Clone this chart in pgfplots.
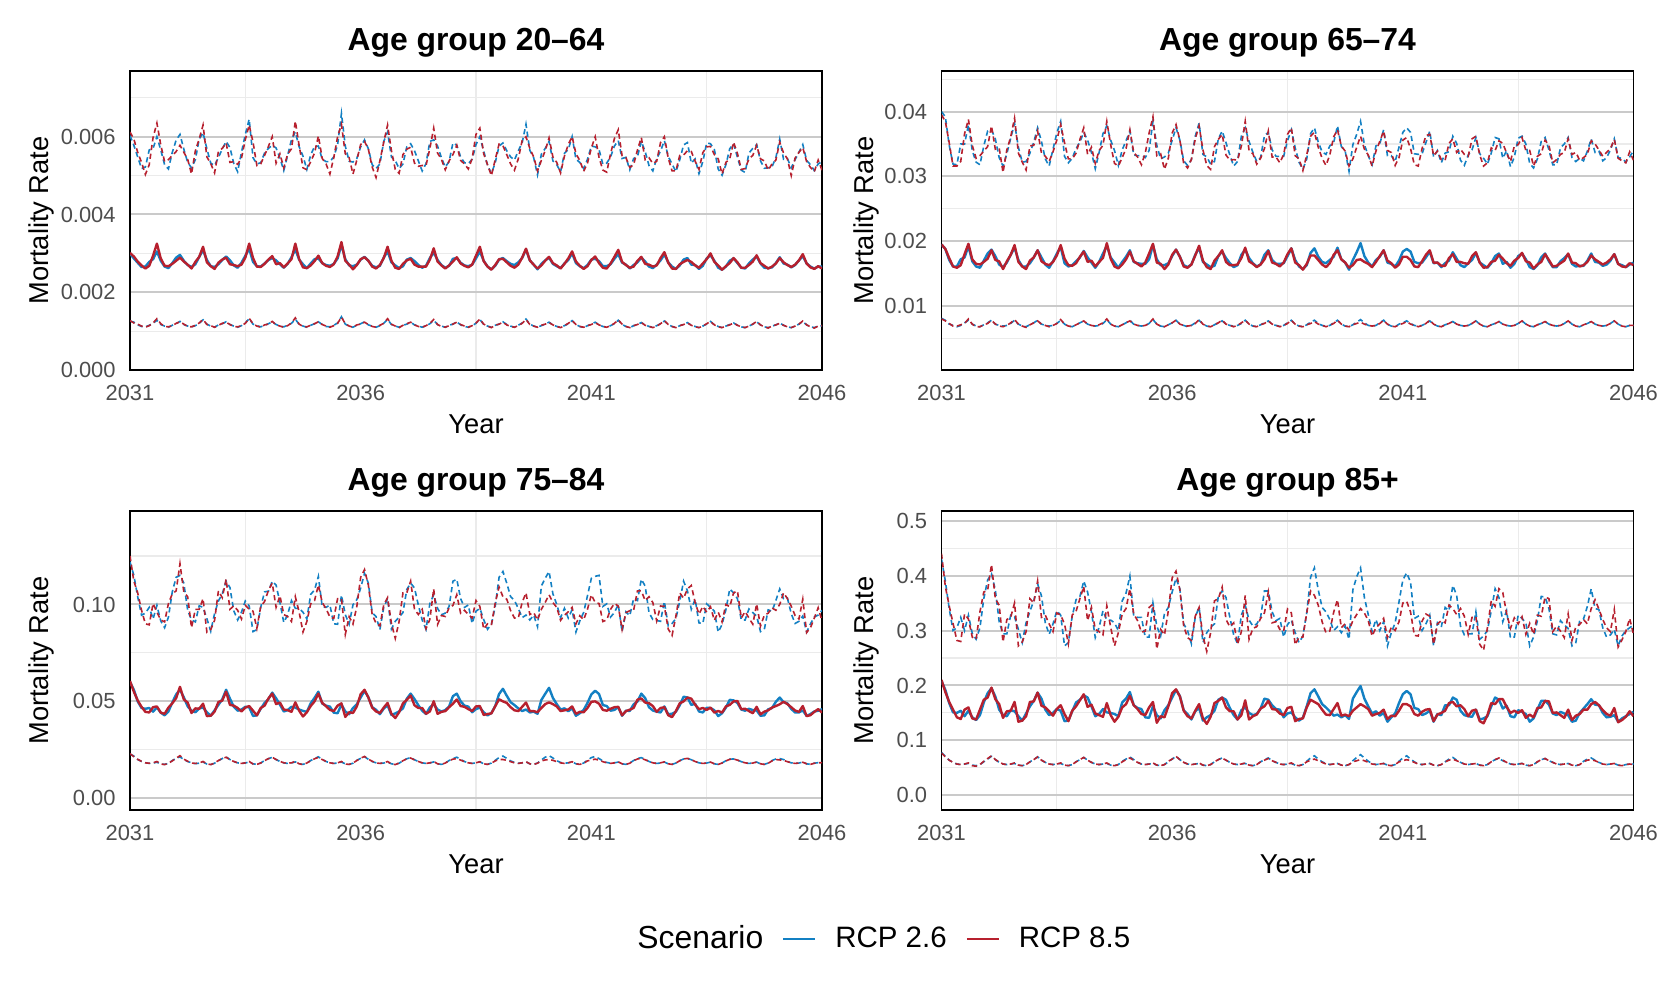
\documentclass[border=0pt]{standalone}
\usepackage{fontspec}
\setmainfont{Liberation Sans}
\usepackage{pgfplots}
\pgfplotsset{compat=1.18}
\usepackage{pgfplotstable}
\definecolor{cb}{HTML}{1380C3}
\definecolor{cr}{HTML}{B7202E}
\definecolor{gmaj}{HTML}{CACACA}
\definecolor{gmin}{HTML}{EBEBEB}
\definecolor{tk}{HTML}{4D4D4D}

% t = months since Jan 2031; 1 = lower bound, 2 = mean, 3 = upper bound; b = RCP 2.6, r = RCP 8.5
\pgfplotstableread{
t b1 b2 b3 r1 r2 r3
0 0.00126 0.00299 0.00603 0.00127 0.00301 0.00612
1 0.00123 0.00287 0.00578 0.00121 0.00292 0.00594
2 0.00116 0.00276 0.00548 0.00118 0.00279 0.00560
3 0.00112 0.00265 0.00518 0.00113 0.00269 0.00534
4 0.00111 0.00266 0.00522 0.00110 0.00261 0.00503
5 0.00115 0.00278 0.00566 0.00114 0.00268 0.00528
6 0.00120 0.00285 0.00570 0.00121 0.00294 0.00598
7 0.00128 0.00305 0.00600 0.00132 0.00325 0.00635
8 0.00117 0.00281 0.00566 0.00119 0.00287 0.00579
9 0.00113 0.00266 0.00528 0.00112 0.00268 0.00536
10 0.00110 0.00262 0.00517 0.00111 0.00267 0.00541
11 0.00115 0.00275 0.00560 0.00114 0.00273 0.00552
12 0.00119 0.00289 0.00591 0.00120 0.00281 0.00562
13 0.00125 0.00296 0.00606 0.00124 0.00289 0.00578
14 0.00117 0.00281 0.00568 0.00118 0.00279 0.00560
15 0.00113 0.00270 0.00534 0.00112 0.00271 0.00542
16 0.00111 0.00265 0.00520 0.00111 0.00261 0.00504
17 0.00114 0.00272 0.00541 0.00115 0.00278 0.00564
18 0.00120 0.00291 0.00594 0.00121 0.00291 0.00594
19 0.00129 0.00308 0.00610 0.00130 0.00317 0.00630
20 0.00118 0.00283 0.00569 0.00117 0.00277 0.00548
21 0.00113 0.00267 0.00532 0.00114 0.00267 0.00531
22 0.00110 0.00265 0.00526 0.00110 0.00260 0.00507
23 0.00116 0.00272 0.00547 0.00115 0.00276 0.00562
24 0.00119 0.00283 0.00568 0.00120 0.00284 0.00570
25 0.00124 0.00292 0.00588 0.00123 0.00289 0.00584
26 0.00117 0.00282 0.00572 0.00117 0.00272 0.00534
27 0.00113 0.00269 0.00531 0.00112 0.00270 0.00536
28 0.00110 0.00263 0.00510 0.00111 0.00267 0.00529
29 0.00114 0.00276 0.00560 0.00114 0.00271 0.00545
30 0.00121 0.00294 0.00606 0.00120 0.00289 0.00593
31 0.00132 0.00312 0.00645 0.00133 0.00325 0.00630
32 0.00118 0.00278 0.00546 0.00119 0.00288 0.00586
33 0.00114 0.00267 0.00530 0.00113 0.00266 0.00526
34 0.00111 0.00266 0.00533 0.00110 0.00265 0.00530
35 0.00115 0.00274 0.00558 0.00116 0.00273 0.00552
36 0.00119 0.00283 0.00570 0.00118 0.00284 0.00575
37 0.00124 0.00288 0.00578 0.00125 0.00293 0.00600
38 0.00117 0.00282 0.00571 0.00116 0.00272 0.00532
39 0.00113 0.00272 0.00545 0.00113 0.00275 0.00556
40 0.00111 0.00263 0.00513 0.00110 0.00264 0.00520
41 0.00115 0.00273 0.00552 0.00114 0.00274 0.00555
42 0.00120 0.00290 0.00592 0.00121 0.00285 0.00569
43 0.00131 0.00310 0.00612 0.00134 0.00325 0.00640
44 0.00117 0.00284 0.00574 0.00118 0.00285 0.00577
45 0.00113 0.00272 0.00550 0.00112 0.00264 0.00520
46 0.00110 0.00262 0.00516 0.00111 0.00262 0.00515
47 0.00115 0.00274 0.00553 0.00115 0.00269 0.00536
48 0.00119 0.00285 0.00575 0.00119 0.00280 0.00558
49 0.00124 0.00287 0.00576 0.00124 0.00294 0.00602
50 0.00117 0.00275 0.00542 0.00117 0.00275 0.00544
51 0.00112 0.00270 0.00536 0.00113 0.00268 0.00530
52 0.00111 0.00268 0.00536 0.00110 0.00265 0.00504
53 0.00115 0.00273 0.00548 0.00114 0.00272 0.00546
54 0.00121 0.00287 0.00579 0.00120 0.00292 0.00600
55 0.00137 0.00322 0.00660 0.00136 0.00329 0.00632
56 0.00118 0.00285 0.00576 0.00119 0.00281 0.00556
57 0.00113 0.00269 0.00537 0.00113 0.00271 0.00546
58 0.00110 0.00267 0.00535 0.00110 0.00259 0.00504
59 0.00115 0.00271 0.00544 0.00116 0.00270 0.00540
60 0.00119 0.00284 0.00574 0.00118 0.00285 0.00580
61 0.00124 0.00291 0.00592 0.00123 0.00290 0.00588
62 0.00116 0.00281 0.00569 0.00117 0.00281 0.00568
63 0.00113 0.00268 0.00528 0.00112 0.00266 0.00522
64 0.00110 0.00264 0.00518 0.00110 0.00261 0.00495
65 0.00114 0.00268 0.00530 0.00115 0.00270 0.00538
66 0.00120 0.00289 0.00588 0.00120 0.00288 0.00586
67 0.00130 0.00305 0.00612 0.00132 0.00317 0.00630
68 0.00117 0.00277 0.00548 0.00118 0.00281 0.00564
69 0.00113 0.00269 0.00539 0.00113 0.00263 0.00516
70 0.00110 0.00262 0.00518 0.00109 0.00260 0.00506
71 0.00115 0.00267 0.00530 0.00115 0.00273 0.00554
72 0.00118 0.00284 0.00574 0.00119 0.00282 0.00568
73 0.00123 0.00288 0.00582 0.00123 0.00286 0.00573
74 0.00116 0.00280 0.00564 0.00116 0.00271 0.00532
75 0.00113 0.00270 0.00538 0.00112 0.00266 0.00524
76 0.00110 0.00263 0.00512 0.00110 0.00266 0.00526
77 0.00114 0.00268 0.00531 0.00114 0.00266 0.00526
78 0.00119 0.00288 0.00588 0.00120 0.00284 0.00570
79 0.00128 0.00302 0.00592 0.00130 0.00313 0.00622
80 0.00117 0.00283 0.00576 0.00117 0.00279 0.00558
81 0.00113 0.00270 0.00546 0.00112 0.00269 0.00542
82 0.00110 0.00263 0.00522 0.00110 0.00261 0.00515
83 0.00115 0.00268 0.00536 0.00114 0.00269 0.00538
84 0.00118 0.00286 0.00584 0.00118 0.00279 0.00554
85 0.00124 0.00288 0.00578 0.00123 0.00290 0.00578
86 0.00116 0.00276 0.00548 0.00117 0.00274 0.00539
87 0.00112 0.00269 0.00533 0.00113 0.00268 0.00530
88 0.00110 0.00267 0.00531 0.00110 0.00264 0.00517
89 0.00114 0.00271 0.00542 0.00114 0.00271 0.00544
90 0.00120 0.00287 0.00580 0.00121 0.00294 0.00606
91 0.00130 0.00305 0.00600 0.00131 0.00317 0.00622
92 0.00117 0.00281 0.00563 0.00118 0.00280 0.00556
93 0.00113 0.00266 0.00527 0.00113 0.00266 0.00528
94 0.00110 0.00259 0.00505 0.00109 0.00258 0.00500
95 0.00115 0.00268 0.00533 0.00115 0.00270 0.00541
96 0.00118 0.00284 0.00576 0.00118 0.00285 0.00581
97 0.00124 0.00288 0.00584 0.00123 0.00286 0.00577
98 0.00117 0.00280 0.00564 0.00116 0.00277 0.00554
99 0.00113 0.00273 0.00548 0.00112 0.00268 0.00530
100 0.00110 0.00270 0.00540 0.00110 0.00263 0.00514
101 0.00115 0.00277 0.00564 0.00114 0.00271 0.00543
102 0.00121 0.00288 0.00584 0.00120 0.00289 0.00590
103 0.00131 0.00310 0.00632 0.00130 0.00312 0.00600
104 0.00118 0.00282 0.00565 0.00117 0.00282 0.00570
105 0.00113 0.00271 0.00546 0.00113 0.00271 0.00548
106 0.00110 0.00259 0.00502 0.00110 0.00261 0.00512
107 0.00114 0.00273 0.00555 0.00115 0.00269 0.00539
108 0.00118 0.00282 0.00570 0.00118 0.00281 0.00564
109 0.00123 0.00289 0.00588 0.00122 0.00291 0.00597
110 0.00116 0.00273 0.00538 0.00116 0.00275 0.00548
111 0.00112 0.00267 0.00528 0.00112 0.00269 0.00534
112 0.00110 0.00262 0.00510 0.00109 0.00261 0.00507
113 0.00114 0.00274 0.00557 0.00114 0.00273 0.00550
114 0.00119 0.00283 0.00567 0.00120 0.00287 0.00580
115 0.00127 0.00300 0.00600 0.00127 0.00305 0.00600
116 0.00117 0.00275 0.00542 0.00117 0.00279 0.00556
117 0.00112 0.00267 0.00534 0.00112 0.00268 0.00539
118 0.00109 0.00262 0.00518 0.00110 0.00260 0.00511
119 0.00114 0.00270 0.00542 0.00114 0.00267 0.00532
120 0.00118 0.00284 0.00576 0.00117 0.00283 0.00571
121 0.00123 0.00286 0.00574 0.00122 0.00292 0.00600
122 0.00116 0.00280 0.00567 0.00116 0.00275 0.00547
123 0.00112 0.00267 0.00529 0.00112 0.00263 0.00514
124 0.00110 0.00267 0.00532 0.00110 0.00261 0.00509
125 0.00114 0.00272 0.00548 0.00114 0.00274 0.00556
126 0.00119 0.00286 0.00576 0.00120 0.00291 0.00595
127 0.00128 0.00298 0.00590 0.00129 0.00309 0.00618
128 0.00117 0.00276 0.00544 0.00118 0.00278 0.00551
129 0.00112 0.00271 0.00547 0.00112 0.00270 0.00546
130 0.00109 0.00261 0.00515 0.00109 0.00263 0.00521
131 0.00114 0.00270 0.00544 0.00114 0.00266 0.00528
132 0.00117 0.00277 0.00549 0.00117 0.00281 0.00566
133 0.00122 0.00289 0.00588 0.00122 0.00291 0.00598
134 0.00116 0.00279 0.00562 0.00115 0.00273 0.00541
135 0.00112 0.00266 0.00526 0.00112 0.00271 0.00546
136 0.00110 0.00262 0.00512 0.00109 0.00266 0.00531
137 0.00114 0.00271 0.00544 0.00113 0.00269 0.00537
138 0.00119 0.00282 0.00563 0.00119 0.00288 0.00585
139 0.00126 0.00297 0.00590 0.00127 0.00303 0.00600
140 0.00117 0.00277 0.00549 0.00117 0.00276 0.00545
141 0.00112 0.00266 0.00530 0.00112 0.00261 0.00512
142 0.00109 0.00260 0.00510 0.00109 0.00260 0.00512
143 0.00114 0.00269 0.00541 0.00114 0.00272 0.00552
144 0.00117 0.00284 0.00579 0.00117 0.00278 0.00553
145 0.00122 0.00288 0.00585 0.00121 0.00283 0.00564
146 0.00115 0.00271 0.00532 0.00115 0.00278 0.00562
147 0.00112 0.00270 0.00543 0.00111 0.00269 0.00537
148 0.00109 0.00260 0.00505 0.00109 0.00263 0.00516
149 0.00113 0.00268 0.00536 0.00113 0.00274 0.00559
150 0.00118 0.00287 0.00584 0.00119 0.00285 0.00574
151 0.00125 0.00295 0.00582 0.00125 0.00300 0.00575
152 0.00116 0.00281 0.00567 0.00116 0.00278 0.00554
153 0.00112 0.00263 0.00517 0.00111 0.00269 0.00543
154 0.00109 0.00258 0.00501 0.00109 0.00258 0.00504
155 0.00113 0.00266 0.00528 0.00113 0.00267 0.00534
156 0.00117 0.00281 0.00569 0.00116 0.00275 0.00543
157 0.00121 0.00287 0.00582 0.00121 0.00288 0.00586
158 0.00115 0.00275 0.00547 0.00115 0.00277 0.00557
159 0.00111 0.00263 0.00514 0.00111 0.00263 0.00516
160 0.00109 0.00261 0.00508 0.00109 0.00263 0.00518
161 0.00113 0.00274 0.00558 0.00113 0.00270 0.00543
162 0.00118 0.00284 0.00570 0.00118 0.00279 0.00552
163 0.00124 0.00292 0.00580 0.00125 0.00295 0.00578
164 0.00116 0.00274 0.00538 0.00116 0.00275 0.00543
165 0.00111 0.00263 0.00519 0.00111 0.00268 0.00538
166 0.00109 0.00262 0.00520 0.00108 0.00261 0.00514
167 0.00113 0.00264 0.00523 0.00113 0.00266 0.00530
168 0.00116 0.00275 0.00546 0.00116 0.00274 0.00540
169 0.00121 0.00290 0.00594 0.00120 0.00288 0.00586
170 0.00115 0.00274 0.00542 0.00115 0.00277 0.00558
171 0.00111 0.00271 0.00544 0.00111 0.00270 0.00543
172 0.00109 0.00264 0.00520 0.00109 0.00265 0.00500
173 0.00113 0.00270 0.00541 0.00113 0.00271 0.00545
174 0.00118 0.00282 0.00560 0.00118 0.00282 0.00560
175 0.00125 0.00293 0.00580 0.00126 0.00298 0.00572
176 0.00116 0.00274 0.00539 0.00116 0.00274 0.00536
177 0.00111 0.00266 0.00528 0.00111 0.00264 0.00521
178 0.00109 0.00261 0.00513 0.00108 0.00260 0.00510
179 0.00113 0.00266 0.00530 0.00113 0.00267 0.00540
180 0.00114 0.00266 0.00536 0.00114 0.00261 0.00514
}\dA

\pgfplotstableread{
t b1 b2 b3 r1 r2 r3
0 0.0081 0.0195 0.0400 0.0080 0.0195 0.0395
1 0.0078 0.0188 0.0392 0.0077 0.0188 0.0385
2 0.0072 0.0171 0.0348 0.0073 0.0174 0.0352
3 0.0070 0.0161 0.0319 0.0069 0.0161 0.0316
4 0.0068 0.0161 0.0318 0.0069 0.0159 0.0316
5 0.0070 0.0172 0.0350 0.0071 0.0163 0.0323
6 0.0074 0.0175 0.0350 0.0073 0.0180 0.0366
7 0.0078 0.0192 0.0380 0.0080 0.0196 0.0388
8 0.0072 0.0169 0.0340 0.0072 0.0172 0.0348
9 0.0069 0.0161 0.0322 0.0068 0.0165 0.0328
10 0.0068 0.0159 0.0318 0.0068 0.0164 0.0332
11 0.0071 0.0170 0.0347 0.0071 0.0168 0.0339
12 0.0074 0.0181 0.0370 0.0073 0.0173 0.0346
13 0.0078 0.0187 0.0372 0.0078 0.0186 0.0378
14 0.0072 0.0177 0.0358 0.0072 0.0171 0.0342
15 0.0070 0.0164 0.0329 0.0069 0.0169 0.0344
16 0.0069 0.0160 0.0316 0.0068 0.0157 0.0306
17 0.0070 0.0167 0.0335 0.0070 0.0169 0.0341
18 0.0073 0.0179 0.0359 0.0074 0.0179 0.0361
19 0.0078 0.0190 0.0382 0.0079 0.0194 0.0390
20 0.0072 0.0171 0.0345 0.0072 0.0168 0.0336
21 0.0069 0.0161 0.0322 0.0069 0.0161 0.0322
22 0.0068 0.0161 0.0323 0.0067 0.0157 0.0310
23 0.0071 0.0166 0.0336 0.0071 0.0170 0.0347
24 0.0074 0.0175 0.0353 0.0074 0.0175 0.0348
25 0.0078 0.0186 0.0375 0.0077 0.0186 0.0370
26 0.0072 0.0175 0.0354 0.0072 0.0169 0.0336
27 0.0070 0.0164 0.0327 0.0070 0.0165 0.0331
28 0.0069 0.0159 0.0316 0.0068 0.0163 0.0323
29 0.0070 0.0169 0.0342 0.0070 0.0168 0.0338
30 0.0073 0.0181 0.0367 0.0073 0.0178 0.0356
31 0.0078 0.0191 0.0385 0.0079 0.0194 0.0380
32 0.0072 0.0166 0.0331 0.0072 0.0173 0.0352
33 0.0069 0.0161 0.0321 0.0069 0.0163 0.0327
34 0.0068 0.0163 0.0328 0.0068 0.0162 0.0327
35 0.0071 0.0169 0.0343 0.0071 0.0166 0.0336
36 0.0074 0.0175 0.0353 0.0074 0.0176 0.0357
37 0.0077 0.0185 0.0368 0.0077 0.0184 0.0375
38 0.0072 0.0175 0.0356 0.0072 0.0168 0.0334
39 0.0070 0.0167 0.0337 0.0070 0.0170 0.0345
40 0.0069 0.0159 0.0312 0.0069 0.0161 0.0320
41 0.0070 0.0168 0.0337 0.0071 0.0168 0.0340
42 0.0073 0.0181 0.0366 0.0074 0.0174 0.0348
43 0.0079 0.0193 0.0378 0.0080 0.0197 0.0385
44 0.0072 0.0175 0.0356 0.0072 0.0173 0.0349
45 0.0069 0.0167 0.0340 0.0069 0.0161 0.0320
46 0.0068 0.0159 0.0317 0.0068 0.0158 0.0316
47 0.0071 0.0168 0.0341 0.0071 0.0164 0.0329
48 0.0074 0.0176 0.0355 0.0074 0.0172 0.0343
49 0.0078 0.0186 0.0370 0.0077 0.0184 0.0372
50 0.0072 0.0168 0.0333 0.0072 0.0169 0.0337
51 0.0070 0.0166 0.0332 0.0070 0.0165 0.0330
52 0.0069 0.0165 0.0332 0.0069 0.0161 0.0318
53 0.0070 0.0165 0.0329 0.0070 0.0167 0.0336
54 0.0073 0.0172 0.0340 0.0073 0.0181 0.0367
55 0.0079 0.0194 0.0385 0.0080 0.0196 0.0392
56 0.0072 0.0172 0.0348 0.0072 0.0167 0.0332
57 0.0069 0.0163 0.0327 0.0069 0.0165 0.0335
58 0.0068 0.0163 0.0330 0.0068 0.0157 0.0311
59 0.0071 0.0166 0.0336 0.0071 0.0164 0.0328
60 0.0074 0.0177 0.0356 0.0074 0.0179 0.0367
61 0.0078 0.0187 0.0375 0.0078 0.0187 0.0380
62 0.0072 0.0176 0.0356 0.0072 0.0176 0.0356
63 0.0070 0.0163 0.0324 0.0070 0.0161 0.0320
64 0.0068 0.0160 0.0317 0.0069 0.0159 0.0313
65 0.0070 0.0164 0.0326 0.0070 0.0164 0.0326
66 0.0074 0.0179 0.0362 0.0073 0.0178 0.0358
67 0.0078 0.0190 0.0382 0.0079 0.0193 0.0378
68 0.0072 0.0168 0.0334 0.0072 0.0170 0.0341
69 0.0069 0.0164 0.0330 0.0069 0.0160 0.0317
70 0.0068 0.0160 0.0319 0.0068 0.0157 0.0311
71 0.0071 0.0162 0.0323 0.0071 0.0170 0.0346
72 0.0074 0.0177 0.0358 0.0074 0.0177 0.0357
73 0.0077 0.0184 0.0370 0.0078 0.0186 0.0365
74 0.0072 0.0174 0.0352 0.0072 0.0168 0.0333
75 0.0070 0.0166 0.0333 0.0070 0.0163 0.0325
76 0.0069 0.0160 0.0316 0.0068 0.0163 0.0326
77 0.0070 0.0163 0.0323 0.0070 0.0164 0.0325
78 0.0073 0.0179 0.0362 0.0074 0.0174 0.0347
79 0.0078 0.0187 0.0375 0.0078 0.0190 0.0385
80 0.0072 0.0174 0.0354 0.0072 0.0169 0.0340
81 0.0069 0.0166 0.0337 0.0069 0.0165 0.0335
82 0.0068 0.0161 0.0323 0.0068 0.0160 0.0319
83 0.0071 0.0164 0.0329 0.0071 0.0164 0.0328
84 0.0074 0.0179 0.0363 0.0073 0.0172 0.0343
85 0.0077 0.0186 0.0368 0.0077 0.0185 0.0370
86 0.0072 0.0171 0.0341 0.0072 0.0167 0.0330
87 0.0070 0.0165 0.0331 0.0070 0.0165 0.0330
88 0.0069 0.0165 0.0331 0.0068 0.0161 0.0321
89 0.0070 0.0166 0.0331 0.0070 0.0167 0.0334
90 0.0074 0.0177 0.0355 0.0073 0.0180 0.0365
91 0.0078 0.0189 0.0372 0.0078 0.0189 0.0375
92 0.0072 0.0171 0.0344 0.0072 0.0167 0.0332
93 0.0069 0.0161 0.0322 0.0069 0.0163 0.0327
94 0.0068 0.0157 0.0311 0.0068 0.0156 0.0309
95 0.0071 0.0163 0.0327 0.0071 0.0165 0.0333
96 0.0075 0.0182 0.0366 0.0073 0.0178 0.0362
97 0.0078 0.0189 0.0375 0.0076 0.0178 0.0368
98 0.0073 0.0176 0.0353 0.0072 0.0171 0.0345
99 0.0070 0.0168 0.0338 0.0070 0.0164 0.0328
100 0.0069 0.0166 0.0334 0.0068 0.0160 0.0317
101 0.0070 0.0171 0.0347 0.0070 0.0166 0.0333
102 0.0074 0.0176 0.0352 0.0073 0.0179 0.0361
103 0.0078 0.0190 0.0378 0.0078 0.0186 0.0372
104 0.0072 0.0172 0.0346 0.0072 0.0172 0.0347
105 0.0069 0.0167 0.0339 0.0069 0.0167 0.0339
106 0.0068 0.0156 0.0308 0.0068 0.0159 0.0316
107 0.0071 0.0171 0.0349 0.0071 0.0163 0.0327
108 0.0075 0.0183 0.0365 0.0073 0.0171 0.0345
109 0.0079 0.0197 0.0385 0.0075 0.0172 0.0362
110 0.0074 0.0177 0.0349 0.0072 0.0168 0.0342
111 0.0070 0.0167 0.0332 0.0070 0.0165 0.0333
112 0.0069 0.0161 0.0318 0.0069 0.0160 0.0316
113 0.0070 0.0171 0.0347 0.0070 0.0168 0.0339
114 0.0074 0.0176 0.0350 0.0073 0.0177 0.0354
115 0.0078 0.0186 0.0372 0.0078 0.0186 0.0370
116 0.0072 0.0167 0.0332 0.0072 0.0170 0.0340
117 0.0069 0.0165 0.0332 0.0069 0.0166 0.0337
118 0.0068 0.0161 0.0323 0.0068 0.0159 0.0317
119 0.0072 0.0170 0.0345 0.0071 0.0164 0.0329
120 0.0074 0.0184 0.0368 0.0073 0.0176 0.0356
121 0.0077 0.0188 0.0375 0.0076 0.0176 0.0360
122 0.0073 0.0184 0.0368 0.0072 0.0171 0.0343
123 0.0070 0.0168 0.0335 0.0070 0.0161 0.0318
124 0.0069 0.0166 0.0334 0.0068 0.0160 0.0316
125 0.0070 0.0167 0.0335 0.0070 0.0169 0.0343
126 0.0073 0.0175 0.0352 0.0073 0.0179 0.0363
127 0.0077 0.0184 0.0370 0.0078 0.0186 0.0365
128 0.0072 0.0166 0.0330 0.0072 0.0167 0.0332
129 0.0069 0.0167 0.0340 0.0069 0.0167 0.0339
130 0.0068 0.0160 0.0321 0.0068 0.0162 0.0326
131 0.0071 0.0166 0.0336 0.0071 0.0162 0.0325
132 0.0073 0.0170 0.0338 0.0073 0.0174 0.0351
133 0.0076 0.0183 0.0362 0.0076 0.0180 0.0358
134 0.0072 0.0173 0.0351 0.0072 0.0168 0.0337
135 0.0070 0.0163 0.0325 0.0070 0.0168 0.0342
136 0.0069 0.0160 0.0317 0.0069 0.0166 0.0334
137 0.0070 0.0166 0.0333 0.0070 0.0165 0.0331
138 0.0073 0.0171 0.0341 0.0073 0.0177 0.0358
139 0.0077 0.0182 0.0360 0.0077 0.0183 0.0362
140 0.0072 0.0167 0.0335 0.0072 0.0167 0.0333
141 0.0069 0.0163 0.0328 0.0069 0.0159 0.0316
142 0.0068 0.0159 0.0319 0.0068 0.0160 0.0321
143 0.0071 0.0166 0.0336 0.0071 0.0168 0.0344
144 0.0073 0.0177 0.0360 0.0073 0.0170 0.0340
145 0.0076 0.0181 0.0358 0.0076 0.0179 0.0355
146 0.0072 0.0165 0.0328 0.0072 0.0173 0.0351
147 0.0070 0.0168 0.0340 0.0070 0.0166 0.0336
148 0.0069 0.0159 0.0315 0.0069 0.0162 0.0323
149 0.0070 0.0165 0.0330 0.0070 0.0170 0.0347
150 0.0073 0.0177 0.0359 0.0073 0.0174 0.0349
151 0.0077 0.0181 0.0362 0.0077 0.0182 0.0360
152 0.0072 0.0172 0.0350 0.0072 0.0169 0.0340
153 0.0069 0.0160 0.0320 0.0069 0.0167 0.0340
154 0.0068 0.0157 0.0313 0.0068 0.0158 0.0316
155 0.0071 0.0163 0.0327 0.0071 0.0164 0.0331
156 0.0073 0.0175 0.0354 0.0073 0.0168 0.0335
157 0.0076 0.0181 0.0360 0.0076 0.0180 0.0356
158 0.0072 0.0169 0.0341 0.0072 0.0171 0.0348
159 0.0070 0.0160 0.0318 0.0070 0.0161 0.0321
160 0.0069 0.0160 0.0318 0.0069 0.0162 0.0326
161 0.0070 0.0169 0.0344 0.0070 0.0166 0.0334
162 0.0073 0.0174 0.0350 0.0073 0.0170 0.0337
163 0.0077 0.0180 0.0360 0.0077 0.0181 0.0358
164 0.0072 0.0165 0.0329 0.0072 0.0167 0.0334
165 0.0069 0.0161 0.0323 0.0069 0.0166 0.0337
166 0.0068 0.0162 0.0328 0.0068 0.0161 0.0325
167 0.0071 0.0162 0.0324 0.0071 0.0163 0.0329
168 0.0073 0.0170 0.0339 0.0073 0.0168 0.0334
169 0.0076 0.0181 0.0358 0.0076 0.0178 0.0355
170 0.0072 0.0168 0.0337 0.0072 0.0172 0.0350
171 0.0070 0.0167 0.0339 0.0070 0.0168 0.0341
172 0.0069 0.0162 0.0324 0.0069 0.0164 0.0331
173 0.0070 0.0164 0.0329 0.0070 0.0167 0.0337
174 0.0073 0.0170 0.0341 0.0073 0.0172 0.0343
175 0.0077 0.0180 0.0358 0.0077 0.0180 0.0357
176 0.0072 0.0165 0.0329 0.0072 0.0165 0.0328
177 0.0069 0.0163 0.0328 0.0069 0.0161 0.0324
178 0.0068 0.0160 0.0322 0.0068 0.0160 0.0321
179 0.0070 0.0164 0.0330 0.0070 0.0166 0.0338
180 0.0070 0.0167 0.0340 0.0070 0.0163 0.0325
}\dB

\pgfplotstableread{
t b1 b2 b3 r1 r2 r3
0 0.0228 0.0600 0.1220 0.0230 0.0605 0.1250
1 0.0218 0.0560 0.1150 0.0215 0.0550 0.1120
2 0.0200 0.0500 0.1040 0.0201 0.0505 0.1060
3 0.0190 0.0466 0.0945 0.0191 0.0472 0.0970
4 0.0184 0.0462 0.0955 0.0183 0.0446 0.0900
5 0.0180 0.0466 0.0985 0.0181 0.0443 0.0895
6 0.0182 0.0447 0.0925 0.0183 0.0470 0.1005
7 0.0186 0.0469 0.0995 0.0190 0.0474 0.0960
8 0.0178 0.0442 0.0915 0.0177 0.0442 0.0920
9 0.0175 0.0428 0.0880 0.0174 0.0436 0.0910
10 0.0180 0.0448 0.0935 0.0181 0.0468 0.1005
11 0.0195 0.0494 0.1065 0.0193 0.0490 0.1055
12 0.0206 0.0536 0.1140 0.0207 0.0517 0.1070
13 0.0214 0.0560 0.1150 0.0220 0.0575 0.1210
14 0.0200 0.0521 0.1110 0.0202 0.0510 0.1065
15 0.0190 0.0474 0.0970 0.0191 0.0494 0.1040
16 0.0183 0.0452 0.0920 0.0182 0.0440 0.0880
17 0.0179 0.0444 0.0910 0.0180 0.0464 0.0975
18 0.0181 0.0464 0.0993 0.0182 0.0462 0.0975
19 0.0187 0.0468 0.0985 0.0190 0.0488 0.1030
20 0.0177 0.0444 0.0927 0.0178 0.0424 0.0857
21 0.0174 0.0426 0.0862 0.0174 0.0426 0.0870
22 0.0181 0.0454 0.0953 0.0182 0.0447 0.0918
23 0.0194 0.0482 0.1018 0.0195 0.0497 0.1070
24 0.0205 0.0511 0.1055 0.0205 0.0504 0.1035
25 0.0214 0.0560 0.1120 0.0212 0.0550 0.1130
26 0.0200 0.0514 0.1087 0.0199 0.0482 0.0975
27 0.0190 0.0472 0.0967 0.0190 0.0478 0.0993
28 0.0183 0.0452 0.0920 0.0183 0.0466 0.0970
29 0.0180 0.0458 0.0960 0.0180 0.0448 0.0925
30 0.0182 0.0472 0.1018 0.0183 0.0468 0.0995
31 0.0188 0.0470 0.0992 0.0190 0.0476 0.0975
32 0.0178 0.0425 0.0860 0.0177 0.0452 0.0965
33 0.0175 0.0428 0.0870 0.0175 0.0428 0.0877
34 0.0182 0.0462 0.0985 0.0182 0.0466 0.0990
35 0.0195 0.0492 0.1065 0.0194 0.0478 0.1015
36 0.0204 0.0512 0.1068 0.0205 0.0515 0.1072
37 0.0212 0.0545 0.1120 0.0212 0.0540 0.1110
38 0.0200 0.0516 0.1100 0.0200 0.0486 0.0985
39 0.0190 0.0483 0.1010 0.0191 0.0494 0.1045
40 0.0183 0.0448 0.0907 0.0183 0.0458 0.0948
41 0.0180 0.0455 0.0947 0.0181 0.0455 0.0938
42 0.0182 0.0472 0.1020 0.0183 0.0446 0.0912
43 0.0188 0.0468 0.0980 0.0191 0.0495 0.1040
44 0.0178 0.0458 0.0980 0.0178 0.0452 0.0960
45 0.0175 0.0451 0.0960 0.0174 0.0422 0.0858
46 0.0182 0.0446 0.0925 0.0182 0.0444 0.0912
47 0.0195 0.0490 0.1052 0.0194 0.0476 0.1003
48 0.0205 0.0518 0.1075 0.0204 0.0500 0.1020
49 0.0214 0.0550 0.1145 0.0211 0.0540 0.1100
50 0.0201 0.0489 0.0988 0.0200 0.0492 0.1010
51 0.0190 0.0478 0.0985 0.0190 0.0475 0.0978
52 0.0183 0.0473 0.0997 0.0183 0.0456 0.0935
53 0.0180 0.0442 0.0900 0.0180 0.0450 0.0928
54 0.0182 0.0439 0.0898 0.0183 0.0478 0.1030
55 0.0187 0.0484 0.1048 0.0190 0.0490 0.1030
56 0.0178 0.0448 0.0948 0.0177 0.0420 0.0845
57 0.0175 0.0434 0.0898 0.0175 0.0444 0.0937
58 0.0181 0.0466 0.0998 0.0182 0.0440 0.0899
59 0.0196 0.0485 0.1025 0.0195 0.0474 0.0990
60 0.0206 0.0520 0.1085 0.0207 0.0537 0.1140
61 0.0215 0.0555 0.1160 0.0216 0.0560 0.1180
62 0.0201 0.0521 0.1110 0.0202 0.0520 0.1100
63 0.0190 0.0470 0.0958 0.0191 0.0468 0.0947
64 0.0183 0.0457 0.0937 0.0183 0.0448 0.0903
65 0.0180 0.0434 0.0870 0.0180 0.0440 0.0890
66 0.0182 0.0463 0.0985 0.0183 0.0468 0.0998
67 0.0187 0.0480 0.1030 0.0190 0.0492 0.1035
68 0.0178 0.0430 0.0873 0.0177 0.0436 0.0902
69 0.0175 0.0438 0.0913 0.0174 0.0414 0.0825
70 0.0181 0.0448 0.0935 0.0182 0.0444 0.0912
71 0.0194 0.0464 0.0958 0.0194 0.0490 0.1060
72 0.0204 0.0514 0.1077 0.0204 0.0508 0.1060
73 0.0210 0.0540 0.1110 0.0208 0.0530 0.1120
74 0.0199 0.0512 0.1085 0.0198 0.0480 0.0975
75 0.0190 0.0480 0.0997 0.0190 0.0466 0.0948
76 0.0183 0.0452 0.0920 0.0183 0.0466 0.0975
77 0.0180 0.0435 0.0872 0.0180 0.0436 0.0875
78 0.0182 0.0469 0.1005 0.0183 0.0448 0.0923
79 0.0188 0.0486 0.1050 0.0190 0.0501 0.1080
80 0.0178 0.0458 0.0980 0.0178 0.0436 0.0897
81 0.0175 0.0448 0.0947 0.0175 0.0446 0.0943
82 0.0182 0.0455 0.0955 0.0182 0.0450 0.0938
83 0.0195 0.0474 0.0990 0.0194 0.0470 0.0982
84 0.0205 0.0527 0.1120 0.0202 0.0488 0.0995
85 0.0212 0.0540 0.1130 0.0205 0.0510 0.1050
86 0.0200 0.0501 0.1030 0.0197 0.0476 0.0955
87 0.0190 0.0478 0.0985 0.0189 0.0472 0.0970
88 0.0183 0.0473 0.0997 0.0183 0.0460 0.0948
89 0.0180 0.0444 0.0902 0.0180 0.0450 0.0930
90 0.0183 0.0460 0.0965 0.0183 0.0474 0.1020
91 0.0188 0.0468 0.0980 0.0189 0.0476 0.0990
92 0.0178 0.0444 0.0922 0.0178 0.0430 0.0873
93 0.0175 0.0428 0.0872 0.0175 0.0435 0.0900
94 0.0182 0.0440 0.0897 0.0181 0.0438 0.0893
95 0.0196 0.0476 0.0990 0.0193 0.0475 0.1008
96 0.0210 0.0538 0.1140 0.0200 0.0511 0.1090
97 0.0218 0.0565 0.1170 0.0200 0.0500 0.1040
98 0.0206 0.0529 0.1110 0.0196 0.0492 0.1027
99 0.0193 0.0496 0.1040 0.0189 0.0470 0.0968
100 0.0185 0.0481 0.1020 0.0183 0.0454 0.0930
101 0.0181 0.0464 0.0980 0.0180 0.0450 0.0930
102 0.0183 0.0450 0.0932 0.0183 0.0472 0.1010
103 0.0188 0.0458 0.0945 0.0189 0.0494 0.1060
104 0.0178 0.0443 0.0920 0.0178 0.0450 0.0948
105 0.0175 0.0447 0.0945 0.0175 0.0450 0.0958
106 0.0182 0.0436 0.0885 0.0181 0.0444 0.0920
107 0.0198 0.0507 0.1095 0.0193 0.0466 0.0975
108 0.0212 0.0539 0.1135 0.0198 0.0486 0.1010
109 0.0220 0.0570 0.1170 0.0200 0.0495 0.1050
110 0.0208 0.0518 0.1055 0.0196 0.0486 0.1010
111 0.0194 0.0486 0.1000 0.0189 0.0474 0.0985
112 0.0185 0.0458 0.0932 0.0183 0.0450 0.0918
113 0.0181 0.0464 0.0980 0.0180 0.0454 0.0945
114 0.0183 0.0449 0.0930 0.0183 0.0458 0.0962
115 0.0188 0.0464 0.0973 0.0189 0.0474 0.0985
116 0.0178 0.0426 0.0858 0.0178 0.0436 0.0900
117 0.0175 0.0439 0.0915 0.0175 0.0446 0.0942
118 0.0182 0.0456 0.0959 0.0181 0.0444 0.0921
119 0.0197 0.0492 0.1045 0.0193 0.0466 0.0975
120 0.0210 0.0536 0.1135 0.0198 0.0498 0.1050
121 0.0216 0.0555 0.1145 0.0202 0.0500 0.1010
122 0.0205 0.0538 0.1150 0.0197 0.0488 0.1005
123 0.0193 0.0481 0.0990 0.0189 0.0456 0.0912
124 0.0185 0.0476 0.1003 0.0183 0.0452 0.0920
125 0.0181 0.0452 0.0935 0.0180 0.0462 0.0975
126 0.0183 0.0456 0.0958 0.0183 0.0470 0.1005
127 0.0187 0.0470 0.1000 0.0188 0.0472 0.0992
128 0.0178 0.0426 0.0860 0.0178 0.0428 0.0871
129 0.0175 0.0452 0.0962 0.0175 0.0450 0.0958
130 0.0182 0.0451 0.0942 0.0181 0.0457 0.0968
131 0.0195 0.0485 0.1030 0.0194 0.0466 0.0970
132 0.0205 0.0499 0.1020 0.0203 0.0509 0.1070
133 0.0210 0.0540 0.1130 0.0205 0.0515 0.1070
134 0.0201 0.0517 0.1095 0.0199 0.0494 0.1020
135 0.0190 0.0470 0.0958 0.0190 0.0491 0.1040
136 0.0183 0.0453 0.0922 0.0183 0.0476 0.1010
137 0.0180 0.0447 0.0917 0.0180 0.0446 0.0915
138 0.0182 0.0443 0.0913 0.0183 0.0466 0.0992
139 0.0187 0.0474 0.1015 0.0188 0.0470 0.0990
140 0.0178 0.0434 0.0890 0.0178 0.0429 0.0873
141 0.0175 0.0436 0.0902 0.0175 0.0419 0.0840
142 0.0182 0.0447 0.0927 0.0182 0.0450 0.0940
143 0.0194 0.0480 0.1018 0.0194 0.0490 0.1060
144 0.0203 0.0524 0.1120 0.0203 0.0500 0.1032
145 0.0206 0.0520 0.1070 0.0206 0.0520 0.1080
146 0.0199 0.0482 0.0975 0.0199 0.0514 0.1098
147 0.0190 0.0488 0.1027 0.0190 0.0483 0.1010
148 0.0183 0.0448 0.0905 0.0183 0.0460 0.0950
149 0.0180 0.0443 0.0902 0.0180 0.0466 0.0990
150 0.0182 0.0467 0.1003 0.0182 0.0456 0.0960
151 0.0187 0.0466 0.0985 0.0187 0.0468 0.0988
152 0.0178 0.0454 0.0965 0.0178 0.0442 0.0918
153 0.0175 0.0424 0.0857 0.0175 0.0451 0.0960
154 0.0182 0.0439 0.0897 0.0182 0.0442 0.0910
155 0.0194 0.0468 0.0973 0.0193 0.0474 0.1000
156 0.0202 0.0508 0.1080 0.0201 0.0482 0.0988
157 0.0203 0.0505 0.1060 0.0203 0.0500 0.1060
158 0.0198 0.0492 0.1030 0.0197 0.0502 0.1070
159 0.0189 0.0458 0.0920 0.0189 0.0460 0.0930
160 0.0183 0.0452 0.0920 0.0183 0.0462 0.0963
161 0.0180 0.0462 0.0977 0.0180 0.0450 0.0930
162 0.0182 0.0455 0.0958 0.0182 0.0439 0.0898
163 0.0187 0.0453 0.0940 0.0187 0.0472 0.1003
164 0.0178 0.0426 0.0860 0.0178 0.0433 0.0888
165 0.0175 0.0428 0.0872 0.0175 0.0447 0.0945
166 0.0182 0.0459 0.0972 0.0181 0.0454 0.0955
167 0.0195 0.0466 0.0965 0.0193 0.0468 0.0982
168 0.0203 0.0498 0.1020 0.0200 0.0476 0.0970
169 0.0205 0.0520 0.1080 0.0198 0.0485 0.1000
170 0.0200 0.0496 0.1030 0.0196 0.0498 0.1060
171 0.0190 0.0490 0.1033 0.0189 0.0486 0.1030
172 0.0183 0.0461 0.0952 0.0183 0.0470 0.0991
173 0.0180 0.0443 0.0902 0.0180 0.0453 0.0943
174 0.0182 0.0443 0.0913 0.0182 0.0446 0.0925
175 0.0187 0.0453 0.0940 0.0186 0.0476 0.1027
176 0.0178 0.0425 0.0858 0.0178 0.0424 0.0855
177 0.0175 0.0435 0.0900 0.0175 0.0429 0.0880
178 0.0181 0.0448 0.0935 0.0181 0.0446 0.0930
179 0.0184 0.0452 0.0945 0.0183 0.0460 0.0983
180 0.0185 0.0460 0.0970 0.0184 0.0442 0.0915
}\dC

\pgfplotstableread{
t b1 b2 b3 r1 r2 r3
0 0.078 0.208 0.430 0.077 0.210 0.440
1 0.071 0.192 0.390 0.070 0.188 0.380
2 0.064 0.168 0.340 0.064 0.170 0.345
3 0.060 0.151 0.300 0.060 0.156 0.313
4 0.057 0.150 0.305 0.057 0.142 0.282
5 0.056 0.154 0.324 0.056 0.139 0.280
6 0.057 0.144 0.300 0.057 0.156 0.330
7 0.058 0.154 0.328 0.059 0.160 0.321
8 0.055 0.142 0.295 0.054 0.140 0.288
9 0.054 0.137 0.284 0.053 0.138 0.284
10 0.056 0.146 0.305 0.056 0.156 0.334
11 0.061 0.169 0.358 0.062 0.174 0.370
12 0.066 0.186 0.392 0.067 0.178 0.373
13 0.071 0.195 0.403 0.072 0.196 0.420
14 0.065 0.180 0.374 0.065 0.175 0.358
15 0.060 0.156 0.316 0.061 0.166 0.346
16 0.057 0.146 0.294 0.057 0.141 0.279
17 0.056 0.144 0.294 0.056 0.153 0.320
18 0.057 0.155 0.328 0.057 0.154 0.324
19 0.058 0.153 0.325 0.059 0.170 0.350
20 0.055 0.144 0.302 0.055 0.134 0.272
21 0.054 0.136 0.278 0.054 0.136 0.279
22 0.056 0.149 0.314 0.056 0.144 0.298
23 0.061 0.162 0.335 0.061 0.170 0.358
24 0.065 0.172 0.354 0.065 0.171 0.350
25 0.070 0.187 0.385 0.070 0.187 0.390
26 0.064 0.176 0.363 0.064 0.163 0.324
27 0.060 0.156 0.314 0.060 0.160 0.328
28 0.057 0.146 0.293 0.057 0.153 0.312
29 0.056 0.150 0.312 0.056 0.145 0.298
30 0.057 0.157 0.336 0.057 0.157 0.332
31 0.058 0.154 0.328 0.059 0.164 0.328
32 0.055 0.135 0.272 0.055 0.148 0.312
33 0.054 0.136 0.278 0.054 0.135 0.276
34 0.056 0.153 0.326 0.056 0.154 0.328
35 0.061 0.169 0.356 0.061 0.162 0.335
36 0.065 0.174 0.362 0.065 0.173 0.358
37 0.069 0.182 0.390 0.069 0.184 0.380
38 0.064 0.178 0.370 0.064 0.161 0.318
39 0.060 0.162 0.334 0.060 0.165 0.342
40 0.057 0.144 0.287 0.057 0.149 0.302
41 0.056 0.148 0.306 0.056 0.146 0.298
42 0.057 0.157 0.336 0.057 0.143 0.292
43 0.058 0.151 0.319 0.059 0.168 0.345
44 0.055 0.150 0.319 0.055 0.146 0.306
45 0.054 0.148 0.314 0.054 0.134 0.272
46 0.056 0.144 0.300 0.056 0.143 0.296
47 0.062 0.169 0.354 0.061 0.160 0.330
48 0.066 0.176 0.368 0.065 0.166 0.340
49 0.070 0.188 0.399 0.068 0.181 0.376
50 0.065 0.164 0.326 0.064 0.164 0.330
51 0.060 0.159 0.324 0.060 0.157 0.318
52 0.057 0.157 0.324 0.057 0.148 0.297
53 0.056 0.142 0.288 0.056 0.146 0.299
54 0.057 0.141 0.288 0.057 0.160 0.342
55 0.058 0.162 0.350 0.059 0.170 0.348
56 0.055 0.146 0.308 0.055 0.132 0.266
57 0.054 0.140 0.290 0.054 0.144 0.302
58 0.056 0.155 0.331 0.056 0.142 0.292
59 0.061 0.164 0.342 0.062 0.162 0.336
60 0.066 0.178 0.370 0.066 0.186 0.396
61 0.071 0.192 0.395 0.071 0.193 0.408
62 0.065 0.181 0.376 0.065 0.180 0.374
63 0.060 0.155 0.312 0.060 0.154 0.308
64 0.057 0.148 0.300 0.057 0.144 0.287
65 0.056 0.138 0.276 0.056 0.140 0.282
66 0.057 0.153 0.324 0.057 0.154 0.326
67 0.058 0.159 0.343 0.059 0.166 0.342
68 0.055 0.136 0.278 0.055 0.140 0.290
69 0.054 0.142 0.296 0.054 0.130 0.262
70 0.056 0.146 0.306 0.056 0.143 0.296
71 0.061 0.154 0.312 0.061 0.168 0.354
72 0.065 0.174 0.362 0.065 0.172 0.358
73 0.068 0.178 0.372 0.068 0.178 0.379
74 0.064 0.174 0.360 0.064 0.160 0.320
75 0.060 0.159 0.324 0.060 0.153 0.307
76 0.057 0.146 0.292 0.057 0.153 0.314
77 0.056 0.138 0.276 0.056 0.138 0.275
78 0.057 0.155 0.328 0.057 0.146 0.298
79 0.058 0.160 0.346 0.059 0.173 0.364
80 0.055 0.150 0.319 0.055 0.138 0.284
81 0.054 0.146 0.308 0.054 0.144 0.304
82 0.056 0.148 0.312 0.056 0.147 0.307
83 0.061 0.158 0.324 0.061 0.158 0.322
84 0.065 0.176 0.372 0.064 0.162 0.332
85 0.068 0.174 0.372 0.067 0.172 0.370
86 0.063 0.164 0.334 0.063 0.157 0.314
87 0.060 0.157 0.318 0.060 0.156 0.316
88 0.057 0.156 0.322 0.057 0.149 0.302
89 0.056 0.142 0.288 0.056 0.146 0.299
90 0.057 0.149 0.311 0.057 0.159 0.339
91 0.058 0.151 0.319 0.059 0.161 0.332
92 0.055 0.142 0.296 0.055 0.135 0.274
93 0.054 0.136 0.278 0.054 0.139 0.288
94 0.056 0.141 0.290 0.056 0.140 0.288
95 0.062 0.162 0.332 0.061 0.160 0.332
96 0.068 0.186 0.397 0.064 0.174 0.372
97 0.072 0.193 0.414 0.066 0.170 0.364
98 0.066 0.180 0.374 0.063 0.166 0.346
99 0.061 0.166 0.342 0.060 0.156 0.316
100 0.058 0.160 0.334 0.057 0.147 0.296
101 0.056 0.153 0.320 0.056 0.146 0.299
102 0.057 0.145 0.300 0.057 0.157 0.333
103 0.058 0.147 0.307 0.058 0.168 0.356
104 0.055 0.142 0.296 0.055 0.145 0.305
105 0.054 0.146 0.308 0.054 0.147 0.312
106 0.056 0.139 0.284 0.056 0.144 0.300
107 0.063 0.176 0.374 0.061 0.154 0.318
108 0.069 0.188 0.398 0.063 0.160 0.329
109 0.074 0.199 0.414 0.065 0.166 0.340
110 0.068 0.176 0.360 0.063 0.162 0.332
111 0.062 0.162 0.329 0.060 0.157 0.318
112 0.058 0.149 0.298 0.057 0.145 0.290
113 0.056 0.153 0.320 0.056 0.148 0.305
114 0.057 0.145 0.300 0.057 0.150 0.312
115 0.058 0.150 0.316 0.058 0.156 0.322
116 0.055 0.134 0.272 0.055 0.139 0.287
117 0.054 0.142 0.296 0.054 0.145 0.306
118 0.056 0.149 0.314 0.056 0.144 0.300
119 0.062 0.168 0.352 0.061 0.154 0.316
120 0.068 0.184 0.392 0.063 0.166 0.350
121 0.072 0.190 0.405 0.065 0.166 0.353
122 0.066 0.184 0.388 0.063 0.162 0.334
123 0.061 0.159 0.322 0.060 0.148 0.291
124 0.057 0.157 0.326 0.057 0.145 0.290
125 0.056 0.146 0.300 0.056 0.152 0.317
126 0.057 0.149 0.312 0.057 0.156 0.330
127 0.058 0.154 0.328 0.058 0.157 0.326
128 0.055 0.134 0.272 0.055 0.135 0.275
129 0.054 0.148 0.314 0.054 0.147 0.312
130 0.056 0.146 0.306 0.056 0.150 0.318
131 0.061 0.164 0.342 0.061 0.154 0.314
132 0.066 0.164 0.336 0.064 0.168 0.346
133 0.069 0.178 0.382 0.066 0.170 0.340
134 0.064 0.174 0.364 0.063 0.162 0.329
135 0.060 0.154 0.308 0.060 0.164 0.340
136 0.057 0.146 0.292 0.057 0.157 0.326
137 0.056 0.144 0.294 0.056 0.144 0.293
138 0.057 0.143 0.294 0.057 0.154 0.324
139 0.058 0.156 0.334 0.058 0.156 0.325
140 0.055 0.138 0.284 0.055 0.135 0.275
141 0.054 0.140 0.290 0.054 0.131 0.264
142 0.056 0.144 0.300 0.056 0.146 0.305
143 0.061 0.162 0.336 0.061 0.168 0.354
144 0.065 0.178 0.376 0.065 0.166 0.344
145 0.067 0.174 0.360 0.068 0.175 0.376
146 0.063 0.158 0.316 0.064 0.175 0.369
147 0.060 0.163 0.336 0.060 0.161 0.331
148 0.057 0.144 0.286 0.057 0.150 0.304
149 0.056 0.142 0.288 0.056 0.154 0.323
150 0.057 0.155 0.328 0.057 0.150 0.312
151 0.058 0.152 0.322 0.058 0.155 0.325
152 0.055 0.148 0.314 0.055 0.141 0.293
153 0.054 0.134 0.272 0.054 0.147 0.313
154 0.056 0.140 0.288 0.056 0.142 0.293
155 0.061 0.156 0.318 0.061 0.159 0.328
156 0.065 0.172 0.362 0.065 0.160 0.326
157 0.067 0.172 0.361 0.067 0.172 0.361
158 0.063 0.165 0.340 0.063 0.171 0.358
159 0.060 0.149 0.294 0.060 0.150 0.298
160 0.057 0.146 0.292 0.057 0.151 0.308
161 0.056 0.152 0.318 0.056 0.146 0.299
162 0.057 0.149 0.310 0.057 0.141 0.287
163 0.058 0.146 0.304 0.058 0.156 0.330
164 0.055 0.134 0.272 0.055 0.137 0.282
165 0.054 0.136 0.278 0.054 0.145 0.307
166 0.056 0.150 0.318 0.056 0.148 0.311
167 0.062 0.158 0.321 0.061 0.156 0.320
168 0.066 0.166 0.344 0.064 0.156 0.312
169 0.068 0.175 0.376 0.065 0.166 0.340
170 0.064 0.165 0.340 0.063 0.170 0.356
171 0.060 0.164 0.338 0.060 0.164 0.339
172 0.057 0.150 0.305 0.057 0.155 0.320
173 0.056 0.142 0.288 0.056 0.148 0.305
174 0.057 0.143 0.292 0.057 0.145 0.298
175 0.058 0.146 0.302 0.058 0.159 0.338
176 0.055 0.134 0.272 0.055 0.133 0.270
177 0.054 0.140 0.290 0.054 0.137 0.283
178 0.056 0.144 0.300 0.056 0.143 0.298
179 0.057 0.148 0.305 0.057 0.153 0.322
180 0.057 0.152 0.310 0.056 0.144 0.293
}\dD

\pgfplotsset{
  panel/.style={
    scale only axis, width=346bp, height=149.5bp,
    xmin=0, xmax=180,
    xtick={0,60,120,180}, xticklabels={2031,2036,2041,2046},
    minor xtick={30,90,150},
    xmajorgrids=false, xminorgrids=true, ymajorgrids=true, yminorgrids=true,
    major grid style={draw=gmaj, line width=1bp},
    minor grid style={draw=gmin, line width=0.55bp},
    major tick length=0pt, minor tick length=0pt,
    axis line style={draw=black, line width=0.8bp},
    tick label style={font=\fontsize{11}{13}\selectfont, text=tk},
    xticklabel style={anchor=base, inner sep=0pt, yshift=-15bp},
    yticklabel style={anchor=east, inner sep=0pt, xshift=-7bp},
    scaled y ticks=false,
    /pgf/number format/assume math mode=true,
    title style={font=\bfseries\fontsize{16}{19}\selectfont, at={(axis description cs:0.5,1.0682)}, anchor=base, yshift=-6pt},
    xlabel={Year},
    xlabel style={font=\fontsize{13.7}{16}\selectfont, at={(axis description cs:0.5,-0.2127)}, anchor=base},
    ylabel={Mortality Rate},
    ylabel style={font=\fontsize{13.7}{16}\selectfont, anchor=base},
  },
  leftcol/.style={ylabel style={at={(axis description cs:-0.1179,0.5)}}},
  rightcol/.style={ylabel style={at={(axis description cs:-0.0977,0.5)}}},
  bs/.style={draw=cb, line width=1.2bp, line join=round, forget plot},
  bd/.style={draw=cb, line width=0.8bp, dash pattern=on 2.6bp off 1.8bp, forget plot},
  rs/.style={draw=cr, line width=1.2bp, line join=round, forget plot},
  rd/.style={draw=cr, line width=0.8bp, dash pattern=on 2.6bp off 1.8bp, forget plot},
}

\begin{document}
\begin{tikzpicture}
\useasboundingbox (0,0) rectangle (830.5bp,-498.5bp);

\begin{axis}[panel, leftcol, at={(65bp,-185bp)}, anchor=south west,
  title={Age group 20--64},
  ymin=0, ymax=0.00769,
  ytick={0,0.002,0.004,0.006}, minor ytick={0.001,0.003,0.005,0.007},
  yticklabel style={/pgf/number format/fixed, /pgf/number format/fixed zerofill, /pgf/number format/precision=3}]
\addplot[bd] table[x=t,y=b1]{\dA};
\addplot[bs] table[x=t,y=b2]{\dA};
\addplot[bd] table[x=t,y=b3]{\dA};
\addplot[rd] table[x=t,y=r1]{\dA};
\addplot[rs] table[x=t,y=r2]{\dA};
\addplot[rd] table[x=t,y=r3]{\dA};
\end{axis}

\begin{axis}[panel, rightcol, at={(470.75bp,-185bp)}, anchor=south west,
  title={Age group 65--74},
  ymin=0.00012, ymax=0.04627,
  ytick={0.01,0.02,0.03,0.04}, minor ytick={0.005,0.015,0.025,0.035,0.045},
  yticklabel style={/pgf/number format/fixed, /pgf/number format/fixed zerofill, /pgf/number format/precision=2}]
\addplot[bd] table[x=t,y=b1]{\dB};
\addplot[bs] table[x=t,y=b2]{\dB};
\addplot[bd] table[x=t,y=b3]{\dB};
\addplot[rd] table[x=t,y=r1]{\dB};
\addplot[rs] table[x=t,y=r2]{\dB};
\addplot[rd] table[x=t,y=r3]{\dB};
\end{axis}

\begin{axis}[panel, leftcol, at={(65bp,-405bp)}, anchor=south west,
  title={Age group 75--84},
  ymin=-0.00603, ymax=0.1482,
  ytick={0,0.05,0.1}, minor ytick={0.025,0.075,0.125},
  yticklabel style={/pgf/number format/fixed, /pgf/number format/fixed zerofill, /pgf/number format/precision=2}]
\addplot[bd] table[x=t,y=b1]{\dC};
\addplot[bs] table[x=t,y=b2]{\dC};
\addplot[bd] table[x=t,y=b3]{\dC};
\addplot[rd] table[x=t,y=r1]{\dC};
\addplot[rs] table[x=t,y=r2]{\dC};
\addplot[rd] table[x=t,y=r3]{\dC};
\end{axis}

\begin{axis}[panel, rightcol, at={(470.75bp,-405bp)}, anchor=south west,
  title={Age group 85+},
  ymin=-0.0267, ymax=0.5175,
  ytick={0,0.1,0.2,0.3,0.4,0.5}, minor ytick={0.05,0.15,0.25,0.35,0.45},
  yticklabel style={/pgf/number format/fixed, /pgf/number format/fixed zerofill, /pgf/number format/precision=1},
  legend columns=-1,
  legend image code/.code={\draw[#1] (0bp,0bp) -- (16bp,0bp);},
  legend style={draw=none, fill=none, inner sep=0pt, outer sep=0pt,
    at={(axis description cs:-0.4668,-0.4308)}, anchor=west,
    font=\fontsize{14.8}{17}\selectfont,
    nodes={inner sep=0pt},
    /tikz/every odd column/.append style={column sep=9.5bp},
    /tikz/every even column/.append style={column sep=9.5bp}}]
\addplot[bd] table[x=t,y=b1]{\dD};
\addplot[bs] table[x=t,y=b2]{\dD};
\addplot[bd] table[x=t,y=b3]{\dD};
\addplot[rd] table[x=t,y=r1]{\dD};
\addplot[rs] table[x=t,y=r2]{\dD};
\addplot[rd] table[x=t,y=r3]{\dD};
\addlegendimage{empty legend}
\addlegendentry{\fontsize{16}{18}\selectfont Scenario}
\addlegendimage{draw=cb, line width=1bp}
\addlegendentry{RCP 2.6}
\addlegendimage{draw=cr, line width=1bp}
\addlegendentry{RCP 8.5}
\end{axis}
\end{tikzpicture}
\end{document}
